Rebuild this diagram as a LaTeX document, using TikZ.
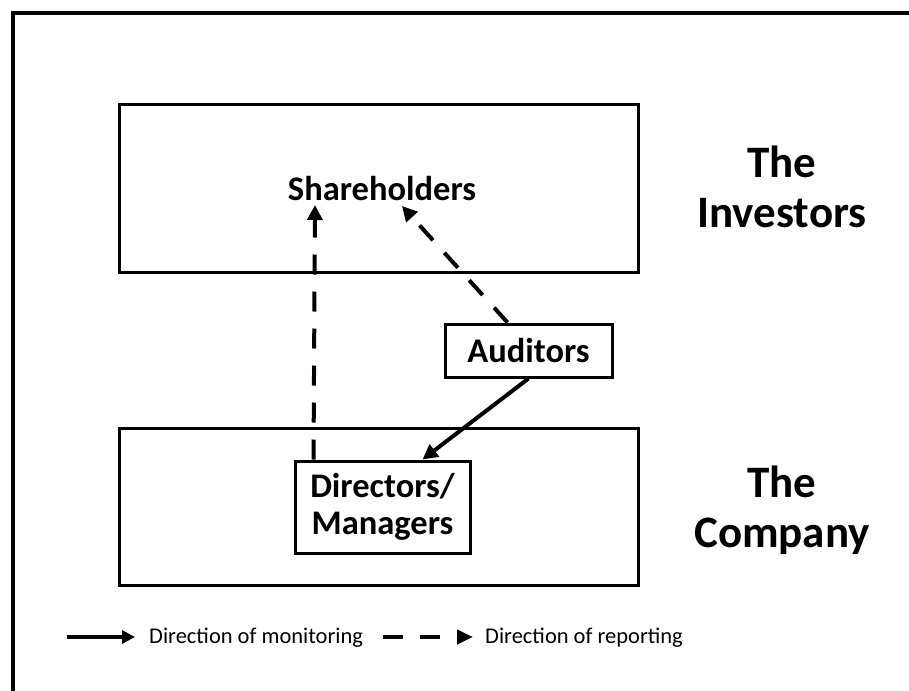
\documentclass[tikz,border=0pt]{standalone}
\usepackage{fontspec}
\setmainfont{Carlito}
\usetikzlibrary{arrows.meta}

\begin{document}
\begin{tikzpicture}[x=1pt,y=-1pt,>={Triangle[length=15pt,width=15pt]},
  big box/.style={draw,line width=3pt,minimum width=519pt,minimum height=167pt},
  small box/.style={draw,line width=3pt,align=center,font=\fontsize{34.5}{37}\selectfont\bfseries},
  side label/.style={align=center,inner sep=0pt,font=\fontsize{45}{50}\selectfont\bfseries},
  legend text/.style={anchor=base west,inner sep=0pt,font=\fontsize{22.5}{26}\selectfont},
  monitor/.style={->,line width=4pt},
  report/.style={->,line width=4pt,dash pattern=on 20pt off 17pt}]

  \useasboundingbox (0,0) rectangle (909,690);
  \clip (0,0) rectangle (909,690);
  \draw[line width=4pt] (13,13) rectangle (940,720);

  \node[big box] (investors) at (378.5,188.5) {};
  \node[big box,minimum height=157pt] (company) at (378.5,506.5) {};
  \node[anchor=base,inner sep=0pt,font=\fontsize{34.5}{36}\selectfont\bfseries] (sh) at (382,200) {Shareholders};
  \node[small box,minimum width=167pt,minimum height=53pt] (auditors) at (528.5,350.5) {Auditors};
  \node[small box,minimum width=175pt,minimum height=92pt] (dirs) at (382.5,507) {Directors/\\Managers};

  \node[side label] (inv) at (782,187) {The\\Investors};
  \node[side label] (comp) at (782,510) {The\\Company};

  % reporting and monitoring
  \path
    ([xshift=20pt]dirs.north west) edge[report] ([xshift=-67pt,yshift=-5pt]sh.base)
    ([xshift=-21pt]auditors.north) edge[report] ([xshift=20pt,yshift=-6pt]sh.base)
    (auditors.south) edge[monitor] ([xshift=40pt]dirs.north);

  % legend
  \node[legend text] (mon) at (149,643) {Direction of monitoring};
  \node[legend text] (rep) at (485,643) {Direction of reporting};
  \draw[monitor,>={Triangle[length=13pt,width=13pt]}] ([xshift=-82pt,yshift=6pt]mon.base west) -- ([xshift=-14pt,yshift=6pt]mon.base west);
  \draw[report,>={Triangle[length=16pt,width=14pt]}] ([xshift=-102pt,yshift=6pt]rep.base west) -- ([xshift=-12pt,yshift=6pt]rep.base west);
\end{tikzpicture}
\end{document}
